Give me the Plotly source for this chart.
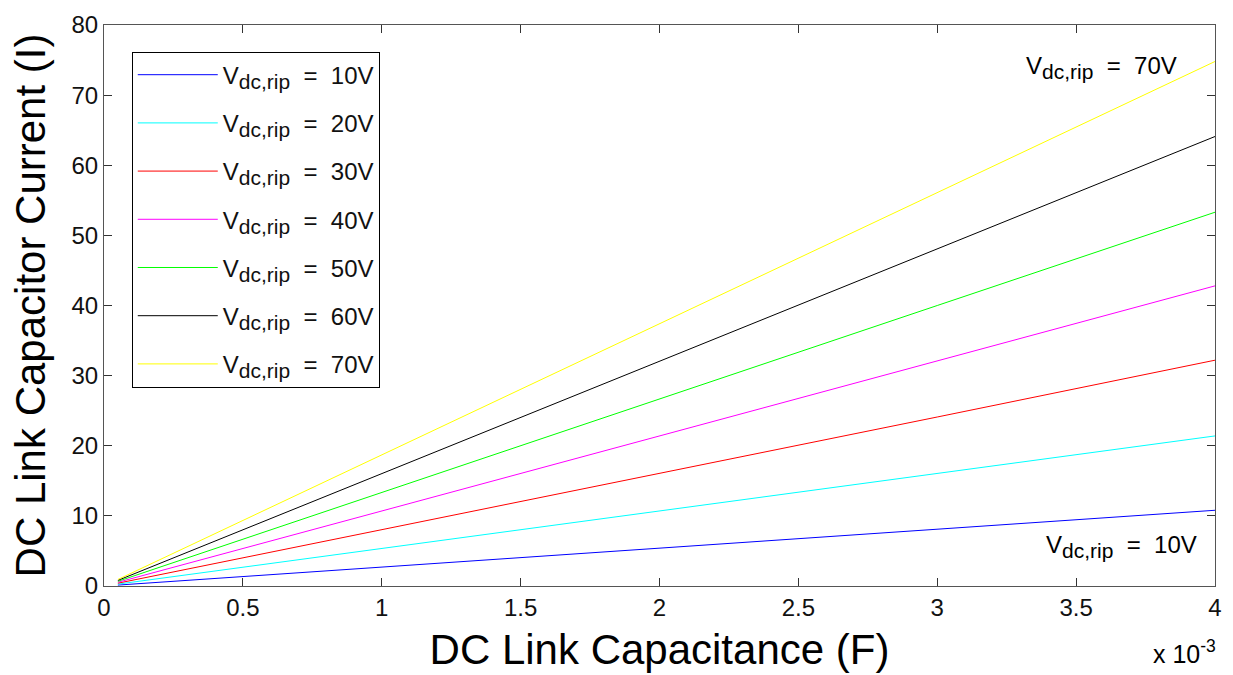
import plotly.graph_objects as go

# Data
capacitance = [0.05e-3, 1e-3, 2e-3, 3e-3, 4e-3]  # F
ripple_labels = ["10V", "20V", "30V", "40V", "50V", "60V", "70V"]
i_10 = [0.13, 2.7, 5.4, 8.1, 10.8]
i_20 = [0.27, 5.35, 10.7, 16.0, 21.4]
i_30 = [0.40, 8.0, 16.1, 24.1, 32.2]
i_40 = [0.53, 10.7, 21.4, 32.1, 42.8]
i_50 = [0.67, 13.3, 26.7, 40.0, 53.3]
i_60 = [0.80, 16.0, 32.1, 48.1, 64.1]
i_70 = [0.93, 18.7, 37.4, 56.1, 74.8]
series = [i_10, i_20, i_30, i_40, i_50, i_60, i_70]
colors = ["#0000ff", "#00ffff", "#ff0000", "#ff00ff", "#00ff00", "#000000", "#ffff00"]

x_tickvals = [0, 0.5e-3, 1e-3, 1.5e-3, 2e-3, 2.5e-3, 3e-3, 3.5e-3, 4e-3]
x_ticktext = ["0", "0.5", "1", "1.5", "2", "2.5", "3", "3.5", "4"]
y_tickvals = [0, 10, 20, 30, 40, 50, 60, 70, 80]

FONT = "Arial, Liberation Sans, sans-serif"

def vlabel(v):
    return 'V<sub><span style="font-size:21px">dc,rip</span></sub>  =  ' + v

fig = go.Figure()
for i, (lab, ys, c) in enumerate(zip(ripple_labels, series, colors)):
    fig.add_trace(go.Scatter(
        x=capacitance, y=ys, mode="lines",
        line=dict(color=c, width=1),
        name=vlabel(lab), legendgroup="g%d" % i,
    ))

axis_common = dict(
    showline=True, linecolor="#555555", linewidth=1.2, mirror="ticks",
    ticks="inside", ticklen=8, tickcolor="#333333", tickwidth=1,
    showgrid=False, zeroline=False,
    tickfont=dict(family=FONT, size=24, color="#111111"),
)

fig.update_xaxes(
    range=[0, 4e-3], tickvals=x_tickvals, ticktext=x_ticktext,
    title=dict(text="DC Link Capacitance (F)", font=dict(family=FONT, size=42, color="#000000"), standoff=14),
    **axis_common,
)
fig.update_yaxes(
    range=[0, 80], tickvals=y_tickvals,
    title=dict(text="DC Link Capacitor Current (I)", font=dict(family=FONT, size=42, color="#000000"), standoff=12),
    **axis_common,
)

fig.add_annotation(x=3.59e-3, y=74.0, xref="x", yref="y", text=vlabel("70V"),
                   showarrow=False, font=dict(family=FONT, size=24, color="#000000"))
fig.add_annotation(x=3.664e-3, y=5.6, xref="x", yref="y", text=vlabel("10V"),
                   showarrow=False, font=dict(family=FONT, size=24, color="#000000"))
fig.add_annotation(x=1.003, y=-0.085, xref="paper", yref="paper", xanchor="right", yanchor="top",
                   text="x 10<sup>-3</sup>", showarrow=False,
                   font=dict(family=FONT, size=25, color="#000000"))

fig.update_layout(
    width=1233, height=675,
    margin=dict(l=104, r=11, t=19, b=86),
    paper_bgcolor="white", plot_bgcolor="white",
    font=dict(family=FONT, color="#000000"),
    legend=dict(
        x=0.025, y=0.9526, xanchor="left", yanchor="top",
        bgcolor="white", bordercolor="#000000", borderwidth=1,
        font=dict(family=FONT, size=24, color="#111111"),
        itemwidth=80, tracegroupgap=14,
    ),
    showlegend=True,
)

fig.write_html("out.html")
